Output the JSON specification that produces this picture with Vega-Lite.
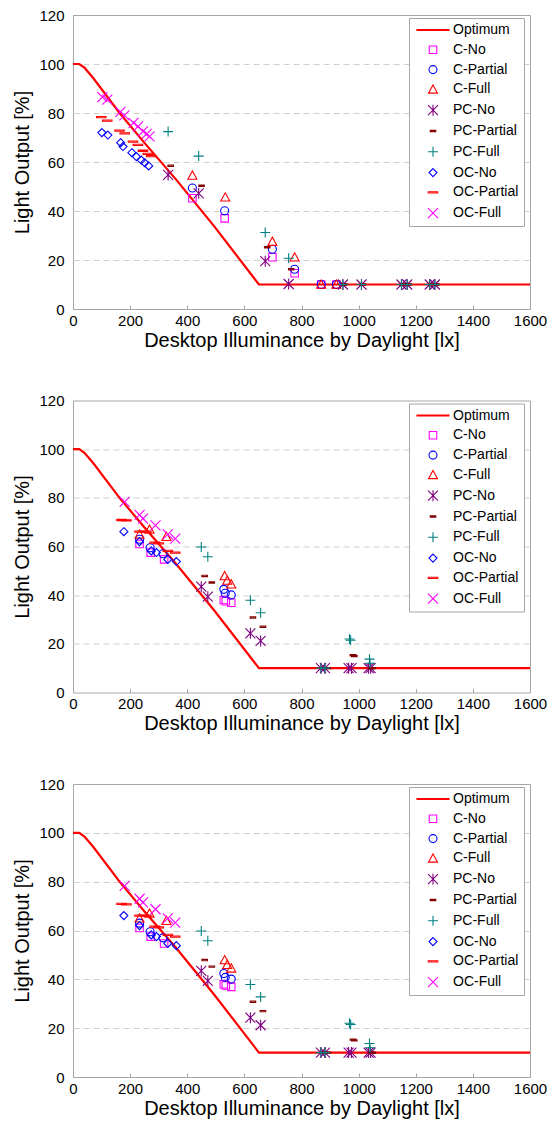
{
  "$schema": "https://vega.github.io/schema/vega-lite/v6.json",
  "padding": {"left": 12, "top": 7, "right": 0, "bottom": 5},
  "background": "white",
  "bounds": "flush",
  "spacing": 91.5,
  "config": {
    "font": "Liberation Sans",
    "view": {"stroke": "#a6a6a6", "strokeWidth": 1},
    "axis": {"labelFont": "Liberation Sans", "titleFont": "Liberation Sans", "labelFontSize": 15, "titleFontSize": 20, "titleFontWeight": "normal", "labelColor": "#000", "titleColor": "#000", "labelFlush": false},
    "legend": {"symbolSize": 100, "symbolStrokeWidth": 1.1}
  },
  "datasets": {
    "opt": [
      {"x": 0, "y": 100}, {"x": 22, "y": 100}, {"x": 40, "y": 98.5}, {"x": 70, "y": 94.4}, {"x": 163, "y": 80}, {"x": 251, "y": 67.7}, {"x": 362, "y": 52.7}, {"x": 496, "y": 33.5}, {"x": 651, "y": 10}, {"x": 1600, "y": 10}
    ],
    "p1": [
      {"series": "C-No", "x": 418, "y": 45.2}, {"series": "C-No", "x": 531, "y": 37}, {"series": "C-No", "x": 698, "y": 21.1}, {"series": "C-No", "x": 776, "y": 14.6}, {"series": "C-No", "x": 869, "y": 10}, {"series": "C-No", "x": 922, "y": 10},
      {"series": "C-Partial", "x": 418, "y": 49.4}, {"series": "C-Partial", "x": 531, "y": 40.1}, {"series": "C-Partial", "x": 698, "y": 24.4}, {"series": "C-Partial", "x": 776, "y": 16.2}, {"series": "C-Partial", "x": 869, "y": 10}, {"series": "C-Partial", "x": 922, "y": 10},
      {"series": "C-Full", "x": 418, "y": 54.5}, {"series": "C-Full", "x": 533, "y": 45.6}, {"series": "C-Full", "x": 698, "y": 27.5}, {"series": "C-Full", "x": 776, "y": 21.1}, {"series": "C-Full", "x": 869, "y": 10}, {"series": "C-Full", "x": 922, "y": 10},
      {"series": "PC-No", "x": 333, "y": 54.7}, {"series": "PC-No", "x": 440, "y": 47.2}, {"series": "PC-No", "x": 673, "y": 19.5}, {"series": "PC-No", "x": 755, "y": 10.2}, {"series": "PC-No", "x": 945, "y": 10}, {"series": "PC-No", "x": 1010, "y": 10}, {"series": "PC-No", "x": 1150, "y": 10}, {"series": "PC-No", "x": 1170, "y": 10}, {"series": "PC-No", "x": 1249, "y": 10}, {"series": "PC-No", "x": 1267, "y": 10},
      {"series": "PC-Partial", "x": 342, "y": 58.5}, {"series": "PC-Partial", "x": 450, "y": 50.3}, {"series": "PC-Partial", "x": 680, "y": 25.2}, {"series": "PC-Partial", "x": 764, "y": 16.2}, {"series": "PC-Partial", "x": 950, "y": 10}, {"series": "PC-Partial", "x": 1015, "y": 10}, {"series": "PC-Partial", "x": 1155, "y": 10}, {"series": "PC-Partial", "x": 1175, "y": 10}, {"series": "PC-Partial", "x": 1254, "y": 10}, {"series": "PC-Partial", "x": 1272, "y": 10},
      {"series": "PC-Full", "x": 333, "y": 72.4}, {"series": "PC-Full", "x": 440, "y": 62.4}, {"series": "PC-Full", "x": 673, "y": 31.2}, {"series": "PC-Full", "x": 755, "y": 20.7}, {"series": "PC-Full", "x": 945, "y": 10}, {"series": "PC-Full", "x": 1010, "y": 10}, {"series": "PC-Full", "x": 1150, "y": 10}, {"series": "PC-Full", "x": 1170, "y": 10}, {"series": "PC-Full", "x": 1249, "y": 10}, {"series": "PC-Full", "x": 1267, "y": 10},
      {"series": "OC-No", "x": 101, "y": 72}, {"series": "OC-No", "x": 122, "y": 71}, {"series": "OC-No", "x": 167, "y": 67.9}, {"series": "OC-No", "x": 175, "y": 66.3}, {"series": "OC-No", "x": 206, "y": 63.8}, {"series": "OC-No", "x": 222, "y": 62.2}, {"series": "OC-No", "x": 239, "y": 60.8}, {"series": "OC-No", "x": 251, "y": 59.7}, {"series": "OC-No", "x": 265, "y": 58.4},
      {"series": "OC-Partial", "x": 99, "y": 78.3}, {"series": "OC-Partial", "x": 120, "y": 76.9}, {"series": "OC-Partial", "x": 163, "y": 72.8}, {"series": "OC-Partial", "x": 181, "y": 71.7}, {"series": "OC-Partial", "x": 210, "y": 68.3}, {"series": "OC-Partial", "x": 227, "y": 67}, {"series": "OC-Partial", "x": 245, "y": 64.6}, {"series": "OC-Partial", "x": 262, "y": 63.3}, {"series": "OC-Partial", "x": 274, "y": 62.4},
      {"series": "OC-Full", "x": 103, "y": 86.5}, {"series": "OC-Full", "x": 120, "y": 85.5}, {"series": "OC-Full", "x": 166, "y": 80.5}, {"series": "OC-Full", "x": 180, "y": 79}, {"series": "OC-Full", "x": 212, "y": 76}, {"series": "OC-Full", "x": 228, "y": 74.5}, {"series": "OC-Full", "x": 245, "y": 72.5}, {"series": "OC-Full", "x": 258, "y": 71.5}, {"series": "OC-Full", "x": 268, "y": 70.5}
    ],
    "p2": [
      {"series": "C-No", "x": 233, "y": 61}, {"series": "C-No", "x": 272, "y": 57.5}, {"series": "C-No", "x": 319, "y": 54.7}, {"series": "C-No", "x": 528, "y": 38}, {"series": "C-No", "x": 535, "y": 37.5}, {"series": "C-No", "x": 554, "y": 36.9},
      {"series": "C-Partial", "x": 233, "y": 63}, {"series": "C-Partial", "x": 270, "y": 59.5}, {"series": "C-Partial", "x": 315, "y": 57}, {"series": "C-Partial", "x": 528, "y": 42.4}, {"series": "C-Partial", "x": 533, "y": 40.8}, {"series": "C-Partial", "x": 554, "y": 40.1},
      {"series": "C-Full", "x": 233, "y": 65}, {"series": "C-Full", "x": 268, "y": 67}, {"series": "C-Full", "x": 327, "y": 64}, {"series": "C-Full", "x": 531, "y": 47.9}, {"series": "C-Full", "x": 540, "y": 46}, {"series": "C-Full", "x": 554, "y": 44.5},
      {"series": "PC-No", "x": 449, "y": 43.5}, {"series": "PC-No", "x": 472, "y": 39.4}, {"series": "PC-No", "x": 621, "y": 24.3}, {"series": "PC-No", "x": 657, "y": 21.2}, {"series": "PC-No", "x": 868, "y": 10}, {"series": "PC-No", "x": 882, "y": 10}, {"series": "PC-No", "x": 965, "y": 10}, {"series": "PC-No", "x": 975, "y": 10}, {"series": "PC-No", "x": 1035, "y": 10}, {"series": "PC-No", "x": 1042, "y": 10},
      {"series": "PC-Partial", "x": 461, "y": 47.9}, {"series": "PC-Partial", "x": 486, "y": 45.2}, {"series": "PC-Partial", "x": 630, "y": 30.8}, {"series": "PC-Partial", "x": 665, "y": 27}, {"series": "PC-Partial", "x": 880, "y": 10}, {"series": "PC-Partial", "x": 892, "y": 10}, {"series": "PC-Partial", "x": 980, "y": 15.3}, {"series": "PC-Partial", "x": 985, "y": 15}, {"series": "PC-Partial", "x": 1045, "y": 10}, {"series": "PC-Partial", "x": 1050, "y": 10},
      {"series": "PC-Full", "x": 449, "y": 59.8}, {"series": "PC-Full", "x": 472, "y": 55.8}, {"series": "PC-Full", "x": 621, "y": 37.9}, {"series": "PC-Full", "x": 657, "y": 32.8}, {"series": "PC-Full", "x": 868, "y": 10}, {"series": "PC-Full", "x": 882, "y": 10}, {"series": "PC-Full", "x": 968, "y": 22}, {"series": "PC-Full", "x": 972, "y": 21.5}, {"series": "PC-Full", "x": 1038, "y": 13.7}, {"series": "PC-Full", "x": 1040, "y": 12},
      {"series": "OC-No", "x": 178, "y": 66.1}, {"series": "OC-No", "x": 233, "y": 62}, {"series": "OC-No", "x": 274, "y": 58.2}, {"series": "OC-No", "x": 292, "y": 57.5}, {"series": "OC-No", "x": 332, "y": 54.7}, {"series": "OC-No", "x": 362, "y": 53.8},
      {"series": "OC-Partial", "x": 170, "y": 70.9}, {"series": "OC-Partial", "x": 187, "y": 70.7}, {"series": "OC-Partial", "x": 233, "y": 66.1}, {"series": "OC-Partial", "x": 257, "y": 66.1}, {"series": "OC-Partial", "x": 286, "y": 61.6}, {"series": "OC-Partial", "x": 300, "y": 61.3}, {"series": "OC-Partial", "x": 332, "y": 58.2}, {"series": "OC-Partial", "x": 358, "y": 57.5},
      {"series": "OC-Full", "x": 181, "y": 78.3}, {"series": "OC-Full", "x": 233, "y": 73}, {"series": "OC-Full", "x": 245, "y": 71.5}, {"series": "OC-Full", "x": 289, "y": 68.7}, {"series": "OC-Full", "x": 332, "y": 65}, {"series": "OC-Full", "x": 358, "y": 63.2}
    ]
  },
  "resolve": {
    "scale": {"color": "independent", "shape": "independent"},
    "legend": {"color": "independent", "shape": "independent"}
  },
  "vconcat": [
    {
      "width": 457, "height": 294,
      "layer": [
        {
          "data": {"name": "opt"},
          "mark": {"type": "line", "color": "#ff0000", "strokeWidth": 2.2},
          "encoding": {
            "x": {"field": "x", "type": "quantitative", "scale": {"domain": [0, 1600], "nice": false}, "axis": {"title": "Desktop Illuminance by Daylight [lx]", "format": "d", "values": [0, 200, 400, 600, 800, 1000, 1200, 1400, 1600], "grid": false, "domain": false, "tickSize": -4, "tickColor": "#a6a6a6", "labelPadding": 8, "titlePadding": 2}},
            "y": {"field": "y", "type": "quantitative", "scale": {"domain": [0, 120], "nice": false}, "axis": {"title": "Light Output [%]", "values": [0, 20, 40, 60, 80, 100, 120], "grid": true, "gridColor": "#cfcfcf", "gridDash": [6, 4], "gridOpacity": {"condition": {"test": "datum.value === 0 || datum.value === 120", "value": 0}, "value": 1}, "domain": false, "ticks": false, "labelPadding": 9, "titlePadding": 6}}
          }
        },
        {
          "data": {"name": "p1"},
          "mark": {"type": "point", "filled": false, "opacity": 1, "size": 100, "strokeWidth": 1.1},
          "encoding": {
            "x": {"field": "x", "type": "quantitative"},
            "y": {"field": "y", "type": "quantitative"},
            "color": {"field": "series", "type": "nominal", "scale": {"domain": ["Optimum", "C-No", "C-Partial", "C-Full", "PC-No", "PC-Partial", "PC-Full", "OC-No", "OC-Partial", "OC-Full"], "range": ["#ff0000", "#ff00ff", "#0000ff", "#ff0000", "#800080", "#800000", "#008080", "#0000ff", "#ff0000", "#ff00ff"]}, "legend": {"title": null, "orient": "none", "legendX": 336, "legendY": 3, "padding": 5, "strokeColor": "#a6a6a6", "fillColor": "white", "labelFontSize": 14, "labelFont": "Liberation Sans", "labelColor": "#000", "rowPadding": 5.8, "symbolSize": 100, "symbolStrokeWidth": 1.1, "symbolOffset": 12, "labelOffset": 13}},
            "shape": {"field": "series", "type": "nominal", "scale": {"domain": ["Optimum", "C-No", "C-Partial", "C-Full", "PC-No", "PC-Partial", "PC-Full", "OC-No", "OC-Partial", "OC-Full"], "range": ["M-3.2,-0.1H3.2V0.1H-3.2Z", "M-0.75,-0.75H0.75V0.75H-0.75Z", "M0.8,0A0.8,0.8,0,1,1,-0.8,0A0.8,0.8,0,1,1,0.8,0Z", "M0,-0.9L0.9,0.75L-0.9,0.75Z", "M-1,-1L1,1M-1,1L1,-1M0,-1.1L0,1.1", "M-0.55,-0.13H0.55V0.13H-0.55Z", "M-1,0L1,0M0,-1L0,1", "M0,-0.8L0.8,0L0,0.8L-0.8,0Z", "M-0.95,-0.12H0.95V0.12H-0.95Z", "M-1,-1L1,1M-1,1L1,-1"]}, "legend": {"title": null, "orient": "none", "legendX": 336, "legendY": 3}}
          }
        }
      ]
    },
    {
      "width": 457, "height": 292,
      "layer": [
        {
          "data": {"name": "opt"},
          "mark": {"type": "line", "color": "#ff0000", "strokeWidth": 2.2},
          "encoding": {
            "x": {"field": "x", "type": "quantitative", "scale": {"domain": [0, 1600], "nice": false}, "axis": {"title": "Desktop Illuminance by Daylight [lx]", "format": "d", "values": [0, 200, 400, 600, 800, 1000, 1200, 1400, 1600], "grid": false, "domain": false, "tickSize": -4, "tickColor": "#a6a6a6", "labelPadding": 8, "titlePadding": 2}},
            "y": {"field": "y", "type": "quantitative", "scale": {"domain": [0, 120], "nice": false}, "axis": {"title": "Light Output [%]", "values": [0, 20, 40, 60, 80, 100, 120], "grid": true, "gridColor": "#cfcfcf", "gridDash": [6, 4], "gridOpacity": {"condition": {"test": "datum.value === 0 || datum.value === 120", "value": 0}, "value": 1}, "domain": false, "ticks": false, "labelPadding": 9, "titlePadding": 6}}
          }
        },
        {
          "data": {"name": "p2"},
          "mark": {"type": "point", "filled": false, "opacity": 1, "size": 100, "strokeWidth": 1.1},
          "encoding": {
            "x": {"field": "x", "type": "quantitative"},
            "y": {"field": "y", "type": "quantitative"},
            "color": {"field": "series", "type": "nominal", "scale": {"domain": ["Optimum", "C-No", "C-Partial", "C-Full", "PC-No", "PC-Partial", "PC-Full", "OC-No", "OC-Partial", "OC-Full"], "range": ["#ff0000", "#ff00ff", "#0000ff", "#ff0000", "#800080", "#800000", "#008080", "#0000ff", "#ff0000", "#ff00ff"]}, "legend": {"title": null, "orient": "none", "legendX": 336, "legendY": 3, "padding": 5, "strokeColor": "#a6a6a6", "fillColor": "white", "labelFontSize": 14, "labelFont": "Liberation Sans", "labelColor": "#000", "rowPadding": 5.8, "symbolSize": 100, "symbolStrokeWidth": 1.1, "symbolOffset": 12, "labelOffset": 13}},
            "shape": {"field": "series", "type": "nominal", "scale": {"domain": ["Optimum", "C-No", "C-Partial", "C-Full", "PC-No", "PC-Partial", "PC-Full", "OC-No", "OC-Partial", "OC-Full"], "range": ["M-3.2,-0.1H3.2V0.1H-3.2Z", "M-0.75,-0.75H0.75V0.75H-0.75Z", "M0.8,0A0.8,0.8,0,1,1,-0.8,0A0.8,0.8,0,1,1,0.8,0Z", "M0,-0.9L0.9,0.75L-0.9,0.75Z", "M-1,-1L1,1M-1,1L1,-1M0,-1.1L0,1.1", "M-0.55,-0.13H0.55V0.13H-0.55Z", "M-1,0L1,0M0,-1L0,1", "M0,-0.8L0.8,0L0,0.8L-0.8,0Z", "M-0.95,-0.12H0.95V0.12H-0.95Z", "M-1,-1L1,1M-1,1L1,-1"]}, "legend": {"title": null, "orient": "none", "legendX": 336, "legendY": 3}}
          }
        }
      ]
    },
    {
      "width": 457, "height": 293,
      "layer": [
        {
          "data": {"name": "opt"},
          "mark": {"type": "line", "color": "#ff0000", "strokeWidth": 2.2},
          "encoding": {
            "x": {"field": "x", "type": "quantitative", "scale": {"domain": [0, 1600], "nice": false}, "axis": {"title": "Desktop Illuminance by Daylight [lx]", "format": "d", "values": [0, 200, 400, 600, 800, 1000, 1200, 1400, 1600], "grid": false, "domain": false, "tickSize": -4, "tickColor": "#a6a6a6", "labelPadding": 8, "titlePadding": 2}},
            "y": {"field": "y", "type": "quantitative", "scale": {"domain": [0, 120], "nice": false}, "axis": {"title": "Light Output [%]", "values": [0, 20, 40, 60, 80, 100, 120], "grid": true, "gridColor": "#cfcfcf", "gridDash": [6, 4], "gridOpacity": {"condition": {"test": "datum.value === 0 || datum.value === 120", "value": 0}, "value": 1}, "domain": false, "ticks": false, "labelPadding": 9, "titlePadding": 6}}
          }
        },
        {
          "data": {"name": "p2"},
          "mark": {"type": "point", "filled": false, "opacity": 1, "size": 100, "strokeWidth": 1.1},
          "encoding": {
            "x": {"field": "x", "type": "quantitative"},
            "y": {"field": "y", "type": "quantitative"},
            "color": {"field": "series", "type": "nominal", "scale": {"domain": ["Optimum", "C-No", "C-Partial", "C-Full", "PC-No", "PC-Partial", "PC-Full", "OC-No", "OC-Partial", "OC-Full"], "range": ["#ff0000", "#ff00ff", "#0000ff", "#ff0000", "#800080", "#800000", "#008080", "#0000ff", "#ff0000", "#ff00ff"]}, "legend": {"title": null, "orient": "none", "legendX": 336, "legendY": 3, "padding": 5, "strokeColor": "#a6a6a6", "fillColor": "white", "labelFontSize": 14, "labelFont": "Liberation Sans", "labelColor": "#000", "rowPadding": 5.8, "symbolSize": 100, "symbolStrokeWidth": 1.1, "symbolOffset": 12, "labelOffset": 13}},
            "shape": {"field": "series", "type": "nominal", "scale": {"domain": ["Optimum", "C-No", "C-Partial", "C-Full", "PC-No", "PC-Partial", "PC-Full", "OC-No", "OC-Partial", "OC-Full"], "range": ["M-3.2,-0.1H3.2V0.1H-3.2Z", "M-0.75,-0.75H0.75V0.75H-0.75Z", "M0.8,0A0.8,0.8,0,1,1,-0.8,0A0.8,0.8,0,1,1,0.8,0Z", "M0,-0.9L0.9,0.75L-0.9,0.75Z", "M-1,-1L1,1M-1,1L1,-1M0,-1.1L0,1.1", "M-0.55,-0.13H0.55V0.13H-0.55Z", "M-1,0L1,0M0,-1L0,1", "M0,-0.8L0.8,0L0,0.8L-0.8,0Z", "M-0.95,-0.12H0.95V0.12H-0.95Z", "M-1,-1L1,1M-1,1L1,-1"]}, "legend": {"title": null, "orient": "none", "legendX": 336, "legendY": 3}}
          }
        }
      ]
    }
  ]
}
